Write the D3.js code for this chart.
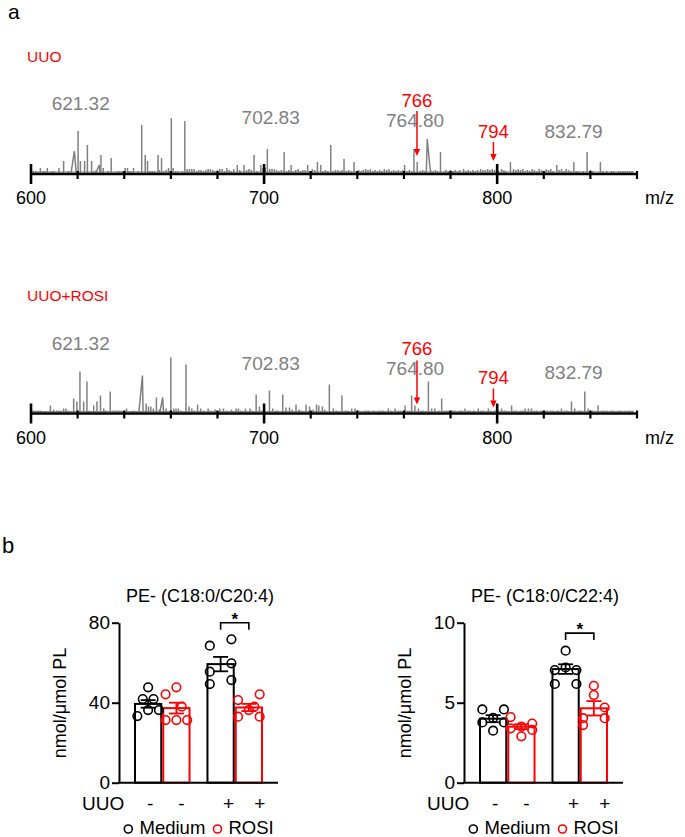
<!DOCTYPE html>
<html><head><meta charset="utf-8">
<script src="https://cdn.jsdelivr.net/npm/d3@7"></script>
<style>
body{margin:0;background:#fff}
svg{display:block;font-family:"Liberation Sans",Arial,Helvetica,sans-serif}
</style>
</head><body>
<svg id="c" width="685" height="837"></svg>
<script>
// ---------------- DATA ----------------
const mzMajorTicks = [600, 700, 800];
const mzMinorTicks = [620, 640, 660, 680, 720, 740, 760, 780, 820, 840, 860];
const mzTickLabels = ["600", "700", "800"];

// [m/z, relative intensity]
const uuoPeaks = [[601,2],[602,2],[603,1],[604,5],[605,2],[606,2],[607,5],[608,1],[609,2],[610,2],[612,5],[614,12],[616,2],[620.2,42],[621.2,12],[623,12],[624.2,28],[626,12],[627,2],[628,3],[630,18],[631,5],[633,2],[634.4,15],[636,1],[637,2],[638,2],[639,2],[640.4,5],[641.4,5],[642,2],[643,2],[644,5],[646,2],[647.5,48],[649,18],[650,12],[651,2],[652,2],[653,2],[654.5,18],[655,3],[656,15],[657,2],[658,3],[659,5],[660.2,55],[661,5],[662,2],[663,2],[665,2],[666,52],[667,4],[668,4],[669,4],[670,4],[671,2],[672,3],[673,3],[674,2],[675,3],[676,4],[677,4],[678,3],[679,2],[680,3],[681,4],[682,4],[683,2],[684,5],[685,3],[686,2],[687,4],[688.5,8],[689.5,3],[690,2],[691.4,8],[692.5,3],[693.5,4],[694.5,3],[695.7,18],[697,2],[698.6,8],[699.5,5],[700.5,5],[701.4,24],[702.4,4],[703.4,4],[704.4,4],[705.4,3],[706.4,2],[707.4,3],[708.6,21],[709.6,2],[710.6,3],[711.6,8],[712.6,2],[713.6,3],[714.6,4],[715.6,2],[716.6,3],[717.6,3],[718.7,8],[719.7,2],[720.7,4],[721.7,3],[722.9,11],[724.3,8],[725.3,2],[726.3,3],[727.3,2],[728.6,28],[729.6,2],[730.6,3],[731.6,3],[732.6,2],[733.4,3],[734.3,14],[735.3,2],[736.3,3],[737.3,2],[738.6,11],[739.6,2],[740.6,3],[741.6,2],[742.6,3],[743.6,4],[744.6,3],[745.6,4],[746.6,2],[747.6,3],[748.6,2],[749.6,3],[750.6,2],[751.6,4],[752.6,3],[753.6,4],[754.6,2],[755.6,3],[756.6,2],[757.6,3],[758.6,2],[759.6,3],[760.3,8],[761.3,2],[762.3,3],[763.3,2],[764.3,24],[765.7,11],[767,2],[768,3],[769,2],[771.5,3],[772.5,2],[773.5,3],[774.5,2],[775.7,21],[777,2],[778,3],[779,2],[780,3],[781,2],[782,3],[783,2],[784,3],[785.6,4],[786.6,2],[787.6,3],[788.6,2],[789.6,3],[790.6,2],[791.6,3],[792.9,4],[793.9,3],[794.9,3],[795.9,4],[796.9,3],[797.9,4],[798.9,3],[800.5,2],[801.9,4],[802.9,3],[803.9,2],[805.7,11],[807,4],[808,3],[809,4],[810,3],[811,4],[812,2],[813,3],[814,2],[815,4],[816,3],[817,2],[818,4],[819,3],[821,4],[822,3],[823,4],[824,2],[825.6,8],[826.6,3],[827.6,4],[828.6,2],[829.6,4],[830.6,3],[831.6,2],[832.9,11],[834,2],[835,2],[837,2],[838.6,21],[840,3],[841,2],[844.3,11],[845.3,2],[847,2],[849,2],[850,2],[852,2],[853,2],[854,2],[855,2],[856,2],[857,2],[858,2]];
// broad (profile) peaks: [m/z, intensity, left width, right width]
const uuoBroad = [[618.6,22,1.4,0.8],[629.3,8,1.5,0.3],[770,34,0.4,1.4]];

const rosiPeaks = [[601,2],[602,2],[603,2],[604,2],[606,1],[608.3,7],[609.7,3],[611,2],[612,2],[613,2],[614,4],[615,4],[616,2],[618.3,14],[619.7,11],[621,41],[622.6,11],[624,31],[625,2],[626.9,7],[628.3,11],[629.8,17],[631.2,4],[632,2],[634,21],[635,2],[636,2],[637,2],[638,2],[639,2],[641,4],[643,1],[644,2],[649.4,9],[650.4,6],[651.4,6],[652.5,4],[653.8,15],[655,3],[658,4],[660,55],[661.2,4],[662.2,4],[663.2,4],[664.2,2],[666.5,48],[667.8,6],[669,4],[670,2],[671.5,8],[672.8,4],[674,2],[676,4],[677,2],[679,3],[681,4],[682.6,4],[684,2],[686,3],[688,4],[689,4],[690,2],[692,4],[694,4],[695,2],[696.6,18],[698,6],[699,2],[700,3],[702.3,22],[703.7,4],[705,2],[706,2],[708,18],[709.4,5],[710.9,5],[712,3],[713.7,8],[715,3],[716,2],[718,8],[719.5,6],[721,3],[722.5,8],[723.5,7],[725,6],[726,3],[728,28],[729.7,4],[731,2],[733.4,17],[735,2],[736,2],[737.6,4],[739,4],[740,2],[741,2],[743,2],[744,2],[745,2],[747,2],[749,2],[750,2],[751,2],[753.3,4],[754.5,2],[756.2,4],[757.5,2],[758.5,2],[760.5,7],[761.5,2],[762.3,2],[763.3,17],[764.7,7],[766.2,4],[767.3,2],[768.3,2],[770.5,31],[771.9,4],[773.3,4],[775,2],[776.2,14],[777.3,2],[778.3,2],[779.3,2],[781,2],[782,2],[784,2],[785,2],[786.2,4],[787.3,2],[788.3,2],[790,2],[791.9,4],[793,2],[794,2],[796.2,4],[797.3,2],[799,2],[800.5,2],[801.9,4],[803,2],[804,2],[806.2,7],[807.3,2],[808.3,2],[810,2],[811,2],[812,4],[813.4,4],[814.7,4],[816,2],[817,2],[819,2],[820.5,2],[821.5,2],[823,2],[824,2],[826,2],[827.6,4],[829,2],[830,2],[831.9,11],[833.3,4],[835,2],[836,2],[837.6,21],[839,4],[840,2],[841,2],[843.3,7],[845,2],[846,2],[847,2],[849,2],[850,2],[852,2],[853,2],[855,2],[856,2],[857,2],[858,2]];
const rosiBroad = [[647.8,37,1.5,0.3],[656.5,15,1.2,0.4]];

const peakLabels = ["621.32", "702.83", "764.80", "832.79"];
const uuoLabelLevels = [70, 56, 53, 42];
const rosiLabelLevels = [70, 50, 45, 41];
const markerLabels = ["766", "794"];
const markerMz = [765.6, 798.4];
// [label level, arrow start, arrow tip]
const uuoMarkerLevels = [[73, 62, 17], [42, 31, 12]];
const rosiMarkerLevels = [[64, 52, 8], [35, 24, 5]];

// bar charts
const uuoGroups = ["-", "+"];
const treatments = ["Medium", "ROSI"];
const pe204Mean = [39.4, 37.3, 59.3, 37.6];
const pe204Sem = [1.9, 2.7, 3.6, 1.8];
const pe204Points = [[47.7,41.8,41.8,36.3,36.3,33.3],[47.7,44.2,38,31.3,31.3,31.3],[71.7,68.5,59.7,55.5,51.3,49.3],[44.2,41.3,38,36.3,33,33]];
const pe224Mean = [4.0, 3.5, 7.1, 4.65];
const pe224Sem = [0.22, 0.15, 0.3, 0.45];
const pe224Points = [[4.58,4.58,4.05,3.77,3.77,3.25],[4.1,3.7,3.5,3.4,3.3,2.9],[8.25,7.2,7.04,7.04,6.17,6.17],[6.06,5.48,4.7,4.03,4.03,3.6]];
// point jitter columns (layout)
const pe204Cols = [[0,-1,1,0,2,-2],[0,-2,1,-2,0,2],[2,-2,2,-2,2,-2],[2,-2,1,0,-2,2]];
const pe224Cols = [[-2,2,0,-2,2,0],[-2,2,0,-2,2,0],[0,0,-2,2,-2,2],[0,0,2,-2,2,-2]];

// ---------------- DRAW ----------------
const svg = d3.select("#c");
const GREY = "#808080", RED = "#ff0000";
const x = d3.scaleLinear().domain([600, 860]).range([31, 637]);

svg.append("text").attr("x", 8).attr("y", 19).attr("font-size", 21).text("a");
svg.append("text").attr("x", 2).attr("y", 553).attr("font-size", 22).text("b");

function spectrum(axisY, title, titleY, peaks, broad, labelLevels, markerLevels) {
  const y = d3.scaleLinear().domain([0, 60]).range([axisY - 1, axisY - 61]);
  const g = svg.append("g");
  g.append("text").attr("x", 27).attr("y", titleY).attr("font-size", 15.5).attr("fill", RED).text(title);
  // baseline band
  g.append("line").attr("x1", x(600.5)).attr("x2", x(858.5))
    .attr("y1", y(1)).attr("y2", y(1)).attr("stroke", GREY).attr("stroke-width", 1.2);
  g.selectAll("line.pk").data(peaks).join("line").attr("class", "pk")
    .attr("x1", d => x(d[0])).attr("x2", d => x(d[0]))
    .attr("y1", y(0)).attr("y2", d => y(d[1]))
    .attr("stroke", GREY).attr("stroke-width", 1.5);
  g.selectAll("path.br").data(broad).join("path").attr("class", "br")
    .attr("d", d => d3.line()([[x(d[0] - d[2]), y(0)], [x(d[0]), y(d[1])], [x(d[0] + d[3]), y(0)]]))
    .attr("fill", "none").attr("stroke", GREY).attr("stroke-width", 1.5);
  // axis
  g.append("line").attr("x1", x(600)).attr("x2", x(860)).attr("y1", axisY).attr("y2", axisY)
    .attr("stroke", "#000").attr("stroke-width", 2.6);
  g.selectAll("line.mn").data(mzMinorTicks).join("line").attr("class", "mn")
    .attr("x1", d => x(d)).attr("x2", d => x(d)).attr("y1", axisY - 3).attr("y2", axisY + 5)
    .attr("stroke", "#000").attr("stroke-width", 2.2);
  g.selectAll("line.mj").data(mzMajorTicks).join("line").attr("class", "mj")
    .attr("x1", d => x(d)).attr("x2", d => x(d)).attr("y1", axisY - 10).attr("y2", axisY + 10)
    .attr("stroke", "#000").attr("stroke-width", 2.6);
  g.selectAll("text.tl").data(mzMajorTicks).join("text").attr("class", "tl")
    .attr("x", d => x(d)).attr("y", axisY + 30).attr("text-anchor", "middle")
    .attr("font-size", 18).text((d, i) => mzTickLabels[i]);
  g.append("text").attr("x", 645).attr("y", axisY + 30).attr("font-size", 18).text("m/z");
  // peak labels
  g.selectAll("text.pl").data(peakLabels).join("text").attr("class", "pl")
    .attr("x", d => x(+d)).attr("y", (d, i) => y(labelLevels[i]) + 7)
    .attr("text-anchor", "middle").attr("font-size", 19).attr("fill", GREY).text(d => d);
  // markers
  markerLabels.forEach((lab, i) => {
    const mx = x(markerMz[i]);
    const [ll, a0, a1] = markerLevels[i];
    g.append("text").attr("x", mx).attr("y", y(ll) + 6.6).attr("text-anchor", "middle")
      .attr("font-size", 18.5).attr("fill", RED).text(lab);
    g.append("line").attr("x1", mx).attr("x2", mx).attr("y1", y(a0)).attr("y2", y(a1) - 5)
      .attr("stroke", RED).attr("stroke-width", 1.5);
    g.append("path").attr("d", `M${mx - 3.2},${y(a1) - 7}L${mx + 3.2},${y(a1) - 7}L${mx},${y(a1)}Z`)
      .attr("fill", RED);
  });
}

spectrum(174, "UUO", 62, uuoPeaks, uuoBroad, uuoLabelLevels, uuoMarkerLevels);
spectrum(413.5, "UUO+ROSI", 301, rosiPeaks, rosiBroad, rosiLabelLevels, rosiMarkerLevels);

function barChart(ox, title, means, sems, points, cols, yMax, yTicks, bracketLevel) {
  const g = svg.append("g");
  const yb = d3.scaleLinear().domain([0, yMax]).range([782.7, 622.7]);
  const xg = d3.scaleBand().domain(uuoGroups).range([ox, ox + 159]).paddingInner(0.22).paddingOuter(0.207);
  const xt = d3.scaleBand().domain(treatments).range([0, xg.bandwidth()]);
  const bars = [];
  uuoGroups.forEach((gr, gi) => treatments.forEach((tr, ti) => {
    const i = gi * 2 + ti;
    bars.push({gr, tr, i, mean: means[i], sem: sems[i], pts: points[i], cols: cols[i],
      x0: xg(gr) + xt(tr), cx: xg(gr) + xt(tr) + xt.bandwidth() / 2, color: ti === 0 ? "#000" : RED});
  }));
  const bw = xt.bandwidth();
  g.selectAll("rect").data(bars).join("rect")
    .attr("x", d => d.x0 + 1).attr("width", bw - 2)
    .attr("y", d => yb(d.mean)).attr("height", d => yb(0) - yb(d.mean))
    .attr("fill", "#fff").attr("stroke", d => d.color).attr("stroke-width", 2);
  bars.forEach(b => {
    b.pts.forEach((v, k) => {
      g.append("circle").attr("cx", b.cx + b.cols[k] * 5.4).attr("cy", yb(v)).attr("r", 4.3)
        .attr("fill", "none").attr("stroke", b.color).attr("stroke-width", 1.6);
    });
    const lo = yb(b.mean - b.sem), hi = yb(b.mean + b.sem);
    g.append("line").attr("x1", b.cx).attr("x2", b.cx).attr("y1", lo).attr("y2", hi)
      .attr("stroke", b.color).attr("stroke-width", 1.8);
    [lo, hi].forEach(yy => g.append("line").attr("x1", b.cx - 7.5).attr("x2", b.cx + 7.5)
      .attr("y1", yy).attr("y2", yy).attr("stroke", b.color).attr("stroke-width", 1.8));
  });
  // axes
  const ax = g.append("g").attr("transform", `translate(${ox},0)`)
    .call(d3.axisLeft(yb).tickValues(yTicks).tickSize(7).tickSizeOuter(0).tickPadding(2));
  ax.select(".domain").attr("stroke-width", 2);
  ax.selectAll(".tick line").attr("stroke-width", 2);
  ax.selectAll(".tick text").attr("font-size", 19).attr("font-family", '"Liberation Sans",Arial,sans-serif').attr("fill", "#000");
  g.append("line").attr("x1", ox - 1).attr("x2", ox + 159).attr("y1", yb(0)).attr("y2", yb(0))
    .attr("stroke", "#000").attr("stroke-width", 2);
  g.append("text").attr("transform", `translate(${ox - 59},703) rotate(-90)`).attr("text-anchor", "middle")
    .attr("dy", "0.35em").attr("font-size", 18).text("nmol/μmol PL");
  g.append("text").attr("x", ox + 81).attr("y", 602).attr("text-anchor", "middle").attr("font-size", 18).text(title);
  // significance bracket
  const b1 = bars[2].cx, b2 = bars[3].cx, by = yb(bracketLevel);
  g.append("path").attr("d", `M${b1},${by + 7}V${by}H${b2}V${by + 7}`).attr("fill", "none")
    .attr("stroke", "#000").attr("stroke-width", 1.6);
  g.append("text").attr("x", (b1 + b2) / 2).attr("y", by + 2).attr("text-anchor", "middle")
    .attr("font-size", 17).attr("font-weight", "bold").text("*");
  // UUO row
  g.append("text").attr("x", ox - 37).attr("y", 810).attr("font-size", 19).text("UUO");
  g.selectAll("text.uu").data(bars).join("text").attr("class", "uu")
    .attr("x", d => d.cx + 2 + d.i * 3).attr("y", 810).attr("text-anchor", "middle")
    .attr("font-size", 19).text(d => d.gr);
  // legend
  const lg = [{t: "Medium", c: "#000", cx: ox + 9.3, tx: ox + 20.5}, {t: "ROSI", c: RED, cx: ox + 98.5, tx: ox + 109.5}];
  lg.forEach(l => {
    g.append("circle").attr("cx", l.cx).attr("cy", 829).attr("r", 4).attr("fill", "none")
      .attr("stroke", l.c).attr("stroke-width", 1.6);
    g.append("text").attr("x", l.tx).attr("y", 834).attr("font-size", 18.5).text(l.t);
  });
}

barChart(119, "PE- (C18:0/C20:4)", pe204Mean, pe204Sem, pe204Points, pe204Cols, 80, [0, 40, 80], 80);
barChart(464, "PE- (C18:0/C22:4)", pe224Mean, pe224Sem, pe224Points, pe224Cols, 10, [0, 5, 10], 9.35);
</script>
</body></html>
